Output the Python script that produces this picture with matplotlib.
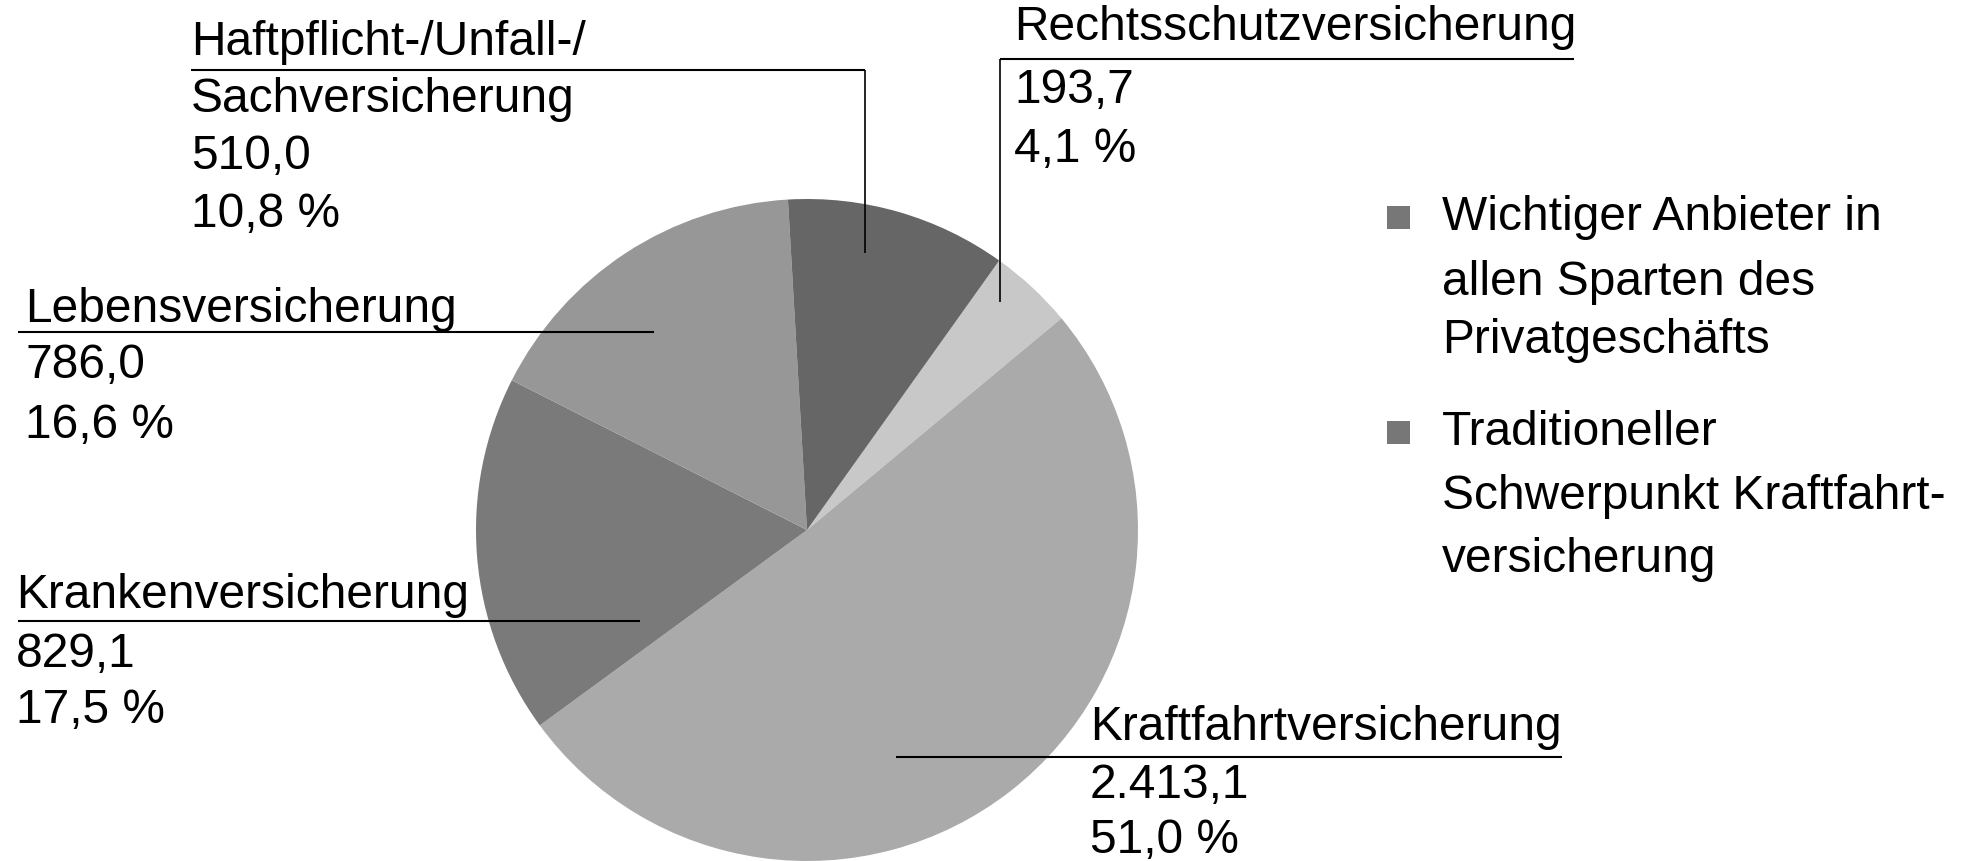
import matplotlib
matplotlib.use("Agg")
import matplotlib.pyplot as plt
from matplotlib.patches import Rectangle

# ---- data ----
categories = ["Rechtsschutzversicherung", "Kraftfahrtversicherung", "Krankenversicherung",
              "Lebensversicherung", "Haftpflicht-/Unfall-/\nSachversicherung"]
values = [193.7, 2413.1, 829.1, 786.0, 510.0]
colors = ["#c8c8c8", "#aaaaaa", "#7a7a7a", "#979797", "#666666"]
legend_labels = ["Wichtiger Anbieter in\nallen Sparten des\nPrivatgeschäfts",
                 "Traditioneller\nSchwerpunkt Kraftfahrt-\nversicherung"]
legend_color = "#777777"

W, H = 1966, 861
FS = 34.5
plt.rcParams['font.family'] = ['Liberation Sans', 'DejaVu Sans']

def de_num(v):
    s = f"{v:,.1f}"
    return s.replace(",", "X").replace(".", ",").replace("X", ".")

total = sum(values)
pcts = [v / total * 100 for v in values]

fig = plt.figure(figsize=(W / 100, H / 100), dpi=100)
ax = fig.add_axes([0, 0, 1, 1])
ax.pie(values, colors=colors, startangle=54.5, counterclock=False,
       center=(807, H - 530), radius=331, wedgeprops=dict(linewidth=0))
ax.set_xlim(0, W)
ax.set_ylim(0, H)
ax.set_aspect('equal')
ax.axis('off')

def Y(y):
    return H - y

# label layout (pixel positions, y from top)
layout = {
    0: dict(tx=1014, nb=40, uy=59, lx0=1000, lx1=1574, vx=1000, vy=302, vb=[103, 162]),
    1: dict(tx=1090, nb=740, uy=757, lx0=896, lx1=1562, vx=None, vy=None, vb=[798, 853]),
    2: dict(tx=16, nb=608, uy=621, lx0=18, lx1=640, vx=None, vy=None, vb=[667, 723]),
    3: dict(tx=25, nb=322, uy=332, lx0=18, lx1=654, vx=None, vy=None, vb=[378, 438]),
    4: dict(tx=191, nb=55, uy=70, lx0=191, lx1=865, vx=865, vy=253, vb=[112, 169, 227]),
}

for i, cat in enumerate(categories):
    L = layout[i]
    parts = cat.split("\n")
    first = parts[0]
    rest = parts[1:] + [de_num(values[i]), f"{pcts[i]:.1f} %".replace(".", ",")]
    ax.text(L['tx'], Y(L['nb']), first, fontsize=FS, va='baseline', ha='left')
    for s, b in zip(rest, L['vb']):
        ax.text(L['tx'], Y(b), s, fontsize=FS, va='baseline', ha='left')
    ax.plot([L['lx0'], L['lx1']], [Y(L['uy']), Y(L['uy'])], color='black', lw=1.5,
            solid_capstyle='butt')
    if L['vx'] is not None:
        ax.plot([L['vx'], L['vx']], [Y(L['uy']), Y(L['vy'])], color='black', lw=1.2,
                solid_capstyle='butt')

# legend
leg_sq_y = [217, 432]
leg_text_b = [[230, 295, 353], [445, 509, 572]]
for lab, sy, bl in zip(legend_labels, leg_sq_y, leg_text_b):
    ax.add_patch(Rectangle((1398 - 11.5, Y(sy) - 11.5), 23, 23, facecolor=legend_color,
                           edgecolor='none'))
    for s, b in zip(lab.split("\n"), bl):
        ax.text(1442, Y(b), s, fontsize=FS, va='baseline', ha='left')

fig.savefig("out.png", dpi=100)
